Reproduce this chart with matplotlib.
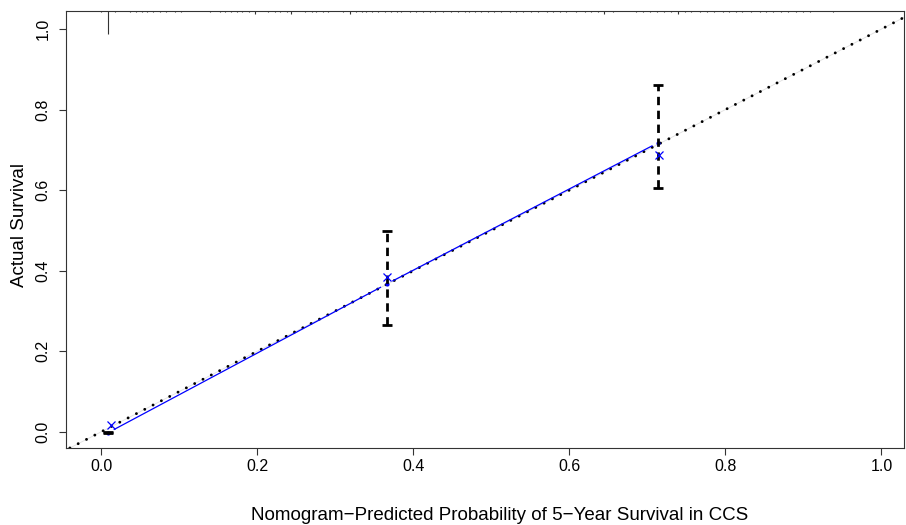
import matplotlib
matplotlib.use('Agg')
import matplotlib.pyplot as plt
import numpy as np

plt.rcParams['font.family'] = ['Liberation Sans', 'DejaVu Sans']

# calibration groups: mean predicted vs Kaplan-Meier observed
pred_mean = [0.009, 0.366, 0.714]
obs_km = [-0.002, 0.367, 0.718]
ci_low = [-0.004, 0.266, 0.605]
ci_high = [0.000, 0.499, 0.861]
# bias-corrected estimates
corr_x = [0.013, 0.367, 0.7145]
corr_y = [0.016, 0.385, 0.687]

# distribution of predicted probabilities (spike histogram at top)
risk_vals = [0.000, 0.0093, 0.018, 0.037, 0.045, 0.052, 0.059, 0.067, 0.075, 0.083,
             0.095, 0.103, 0.140, 0.152, 0.159, 0.167, 0.174, 0.180, 0.189, 0.197,
             0.214, 0.223, 0.229, 0.238, 0.244, 0.261, 0.270, 0.276, 0.285, 0.291,
             0.310, 0.319, 0.327, 0.334, 0.340, 0.347, 0.355, 0.364, 0.372, 0.379,
             0.385, 0.396, 0.404, 0.413, 0.421, 0.428, 0.438, 0.449, 0.457, 0.466,
             0.472, 0.479, 0.487, 0.496, 0.504, 0.513, 0.524, 0.532, 0.541, 0.551,
             0.560, 0.571, 0.579, 0.588, 0.596, 0.609, 0.620, 0.628, 0.637, 0.645,
             0.656, 0.686, 0.694, 0.703, 0.712, 0.722, 0.731, 0.739, 0.748, 0.756,
             0.767, 0.776, 0.786, 0.797, 0.805, 0.814, 0.822, 0.833, 0.844, 0.852,
             0.861, 0.872, 0.880, 0.891, 0.899, 0.908, 0.938]
risk_freq = [0.06, 1.0, 0.06, 0.06, 0.06, 0.06, 0.06, 0.06, 0.06, 0.06,
             0.06, 0.06, 0.06, 0.06, 0.06, 0.06, 0.06, 0.06, 0.06, 0.15,
             0.06, 0.06, 0.06, 0.06, 0.15, 0.06, 0.06, 0.06, 0.06, 0.06,
             0.06, 0.15, 0.06, 0.06, 0.06, 0.06, 0.06, 0.06, 0.06, 0.06,
             0.06, 0.06, 0.06, 0.06, 0.06, 0.06, 0.06, 0.06, 0.06, 0.06,
             0.06, 0.06, 0.06, 0.06, 0.06, 0.06, 0.06, 0.06, 0.06, 0.06,
             0.06, 0.06, 0.06, 0.06, 0.06, 0.06, 0.06, 0.06, 0.06, 0.15,
             0.06, 0.06, 0.06, 0.06, 0.06, 0.06, 0.06, 0.15, 0.06, 0.06,
             0.06, 0.06, 0.06, 0.06, 0.06, 0.06, 0.06, 0.06, 0.06, 0.06,
             0.06, 0.06, 0.06, 0.06, 0.06, 0.06, 0.06]

ticks = [0.0, 0.2, 0.4, 0.6, 0.8, 1.0]
tick_labels = ['0.0', '0.2', '0.4', '0.6', '0.8', '1.0']

fig = plt.figure(figsize=(9.06, 5.25), dpi=100)
ax = fig.add_axes([0.0728, 0.1467, 0.9250, 0.8324])
ax.set_xlim(-0.045, 1.029)
ax.set_ylim(-0.04, 1.045)

# ideal line
ax.axline((0, 0), (1, 1), color='#e0e0e0', lw=0.6, zorder=1)
ax.axline((0, 0), (1, 1), color='black', lw=2.1, linestyle=(0, (0.01, 3.2)),
          dash_capstyle='round', zorder=2)

# observed line, drawn like R type="b" (gaps at the points)
trans = ax.transData
inv = trans.inverted()
pts = trans.transform(np.column_stack([pred_mean, obs_km]))
gap = 7
for p0, p1 in zip(pts[:-1], pts[1:]):
    d = p1 - p0
    u = d / np.hypot(*d)
    a = inv.transform(p0 + u * gap)
    b = inv.transform(p1 - u * gap)
    ax.plot([a[0], b[0]], [a[1], b[1]], color='blue', lw=0.9, zorder=3)
ax.plot(pred_mean, obs_km, 'o', color='blue', ms=2, zorder=3)

# error bars
ax.vlines(pred_mean, ci_low, ci_high, colors='black', lw=2,
          linestyles=[(0, (3, 2))], zorder=4)
ax.plot(pred_mean, ci_low, '_', color='black', ms=7.5, mew=2, zorder=4)
ax.plot(pred_mean, ci_high, '_', color='black', ms=7.5, mew=2, zorder=4)

# bias-corrected
ax.plot(corr_x, corr_y, 'x', color='blue', ms=6, mew=0.9, zorder=5)

# spike histogram of predictions
top = ax.get_ylim()[1]
ax.vlines(risk_vals, top - np.array(risk_freq) * 0.057, top, colors='#333333', lw=0.8)

ax.set_xticks(ticks)
ax.set_xticklabels(tick_labels)
ax.set_yticks(ticks)
ax.set_yticklabels(tick_labels, rotation=90, va='center')
ax.tick_params(direction='out', length=5, width=0.8, color='#333333', labelsize=11.5)
ax.tick_params(axis='x', pad=3)
ax.tick_params(axis='y', pad=6)
for s in ax.spines.values():
    s.set_color('#333333')
    s.set_linewidth(0.8)

ax.set_xlabel('Nomogram\u2212Predicted Probability of 5\u2212Year Survival in CCS',
              fontsize=13.5, va='center')
ax.xaxis.set_label_coords(0.517, -0.154)
ax.set_ylabel('Actual Survival', fontsize=13.5, va='center')
ax.yaxis.set_label_coords(-0.055, 0.51)

fig.savefig('out.png', dpi=100)
